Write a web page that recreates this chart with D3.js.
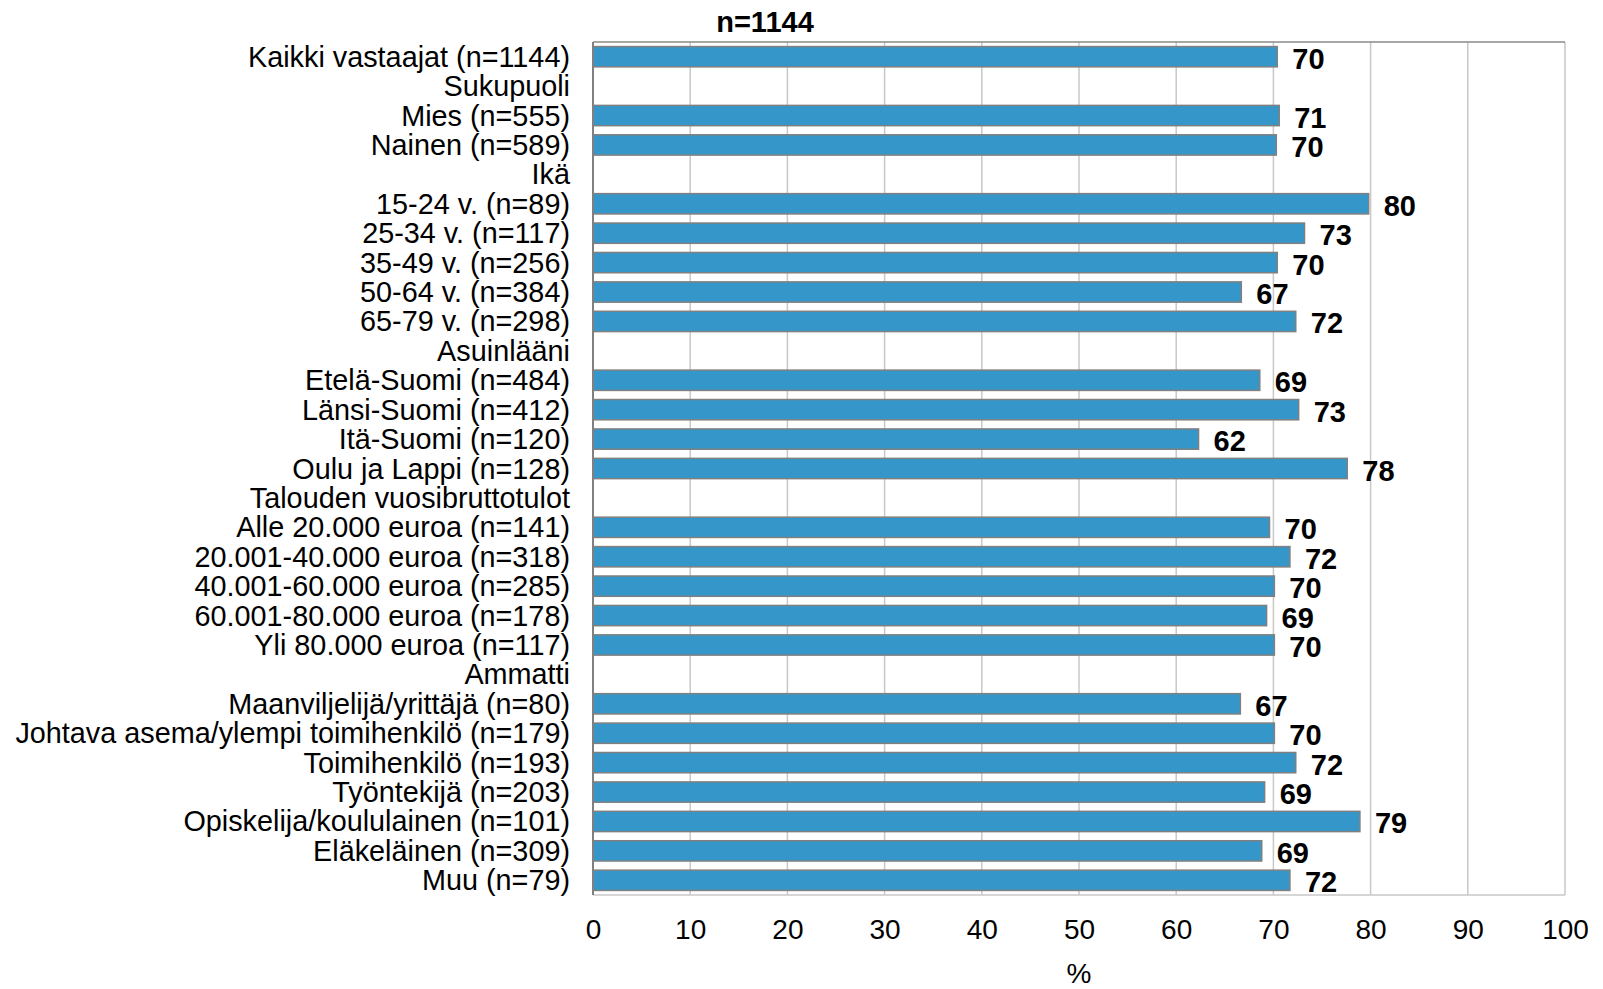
<!DOCTYPE html>
<html>
<head>
<meta charset="utf-8">
<script src="https://cdn.jsdelivr.net/npm/d3@7"></script>
<style>
  body { margin: 0; background: #fff; }
  svg text { font-family: "Liberation Sans", Arial, sans-serif; }
</style>
</head>
<body>
<div class="holder"></div>
<script>
const categories = [
  "Kaikki vastaajat (n=1144)",
  "Sukupuoli",
  "Mies (n=555)",
  "Nainen (n=589)",
  "Ikä",
  "15-24 v. (n=89)",
  "25-34 v. (n=117)",
  "35-49 v. (n=256)",
  "50-64 v. (n=384)",
  "65-79 v. (n=298)",
  "Asuinlääni",
  "Etelä-Suomi (n=484)",
  "Länsi-Suomi (n=412)",
  "Itä-Suomi (n=120)",
  "Oulu ja Lappi (n=128)",
  "Talouden vuosibruttotulot",
  "Alle 20.000 euroa (n=141)",
  "20.001-40.000 euroa (n=318)",
  "40.001-60.000 euroa (n=285)",
  "60.001-80.000 euroa (n=178)",
  "Yli 80.000 euroa (n=117)",
  "Ammatti",
  "Maanviljelijä/yrittäjä (n=80)",
  "Johtava asema/ylempi toimihenkilö (n=179)",
  "Toimihenkilö (n=193)",
  "Työntekijä (n=203)",
  "Opiskelija/koululainen (n=101)",
  "Eläkeläinen (n=309)",
  "Muu (n=79)"
];

// null = group heading row, no bar
const values = [
  70.4, null, 70.6, 70.3, null,
  79.8, 73.2, 70.4, 66.7, 72.3, null,
  68.6, 72.6, 62.3, 77.6, null,
  69.6, 71.7, 70.1, 69.3, 70.1, null,
  66.6, 70.1, 72.3, 69.1, 78.9, 68.8, 71.7
];

const xTicks = [0, 10, 20, 30, 40, 50, 60, 70, 80, 90, 100];
const chartTitle = "n=1144";
const xTitle = "%";

const width = 1603;
const height = 989;
const margin = { top: 42, right: 38, bottom: 94, left: 593 };

const svg = d3
  .select(".holder")
  .append("svg")
  .attr("width", width)
  .attr("height", height);

const xScale = d3
  .scaleLinear()
  .domain([0, 100])
  .range([margin.left, width - margin.right]);

const yScale = d3
  .scaleBand()
  .domain(categories)
  .range([margin.top, height - margin.bottom])
  .paddingInner(0.31)
  .paddingOuter(0.155);

const plotTop = margin.top;
const plotBottom = height - margin.bottom;

// gridlines
svg
  .append("g")
  .selectAll("line")
  .data(xTicks.slice(1))
  .enter()
  .append("line")
  .attr("x1", (d) => xScale(d))
  .attr("x2", (d) => xScale(d))
  .attr("y1", plotTop)
  .attr("y2", plotBottom)
  .attr("stroke", "#c8c8c8")
  .attr("stroke-width", 1.5);

// bottom and top frame
svg
  .append("line")
  .attr("x1", xScale(0))
  .attr("x2", xScale(100))
  .attr("y1", plotBottom)
  .attr("y2", plotBottom)
  .attr("stroke", "#c8c8c8")
  .attr("stroke-width", 1.5);

svg
  .append("line")
  .attr("x1", xScale(0))
  .attr("x2", xScale(100))
  .attr("y1", plotTop)
  .attr("y2", plotTop)
  .attr("stroke", "#8a8a8a")
  .attr("stroke-width", 1.5);

const rows = categories.map((c, i) => ({ cat: c, val: values[i] }));
const barRows = rows.filter((d) => d.val !== null);

svg
  .append("g")
  .selectAll("rect")
  .data(barRows)
  .enter()
  .append("rect")
  .attr("x", xScale(0))
  .attr("y", (d) => yScale(d.cat))
  .attr("width", (d) => xScale(d.val) - xScale(0))
  .attr("height", yScale.bandwidth())
  .attr("fill", "#3597c9")
  .attr("stroke", "#808080")
  .attr("stroke-width", 1.5);

// value labels
svg
  .append("g")
  .selectAll("text")
  .data(barRows)
  .enter()
  .append("text")
  .attr("x", (d) => xScale(d.val) + 15)
  .attr("y", (d) => yScale(d.cat) + yScale.bandwidth() / 2 + 2)
  .attr("dominant-baseline", "central")
  .attr("font-size", 29)
  .attr("font-weight", "bold")
  .attr("fill", "#000")
  .text((d) => Math.round(d.val));

// left axis line
svg
  .append("line")
  .attr("x1", xScale(0))
  .attr("x2", xScale(0))
  .attr("y1", plotTop)
  .attr("y2", plotBottom)
  .attr("stroke", "#808080")
  .attr("stroke-width", 2);

// category labels
svg
  .append("g")
  .selectAll("text")
  .data(categories)
  .enter()
  .append("text")
  .attr("x", xScale(0) - 23)
  .attr("y", (d) => yScale(d) + yScale.bandwidth() / 2)
  .attr("text-anchor", "end")
  .attr("dominant-baseline", "central")
  .attr("font-size", 28.8)
  .attr("fill", "#000")
  .text((d) => d);

// x axis
const xAxis = d3.axisBottom(xScale).tickValues(xTicks).tickSize(0).tickPadding(24);
const gx = svg
  .append("g")
  .attr("transform", `translate(0, ${plotBottom})`)
  .call(xAxis);
gx.select(".domain").remove();
gx.selectAll("text")
  .attr("font-size", 28)
  .attr("fill", "#000")
  .style("font-family", '"Liberation Sans", Arial, sans-serif');

svg
  .append("text")
  .attr("x", (xScale(0) + xScale(100)) / 2)
  .attr("y", 973)
  .attr("text-anchor", "middle")
  .attr("dominant-baseline", "central")
  .attr("font-size", 28)
  .text(xTitle);

svg
  .append("text")
  .attr("x", 765)
  .attr("y", 22)
  .attr("text-anchor", "middle")
  .attr("dominant-baseline", "central")
  .attr("font-size", 29)
  .attr("font-weight", "bold")
  .text(chartTitle);
</script>
</body>
</html>
